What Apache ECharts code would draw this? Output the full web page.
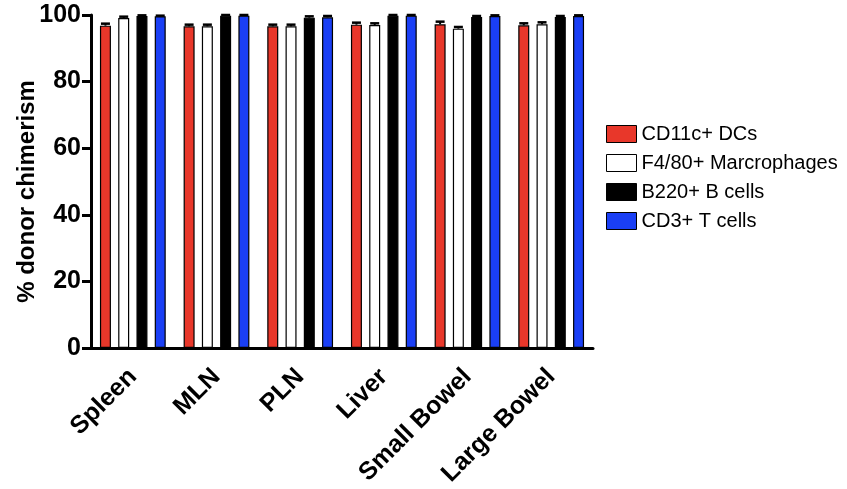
<!DOCTYPE html>
<html>
<head>
<meta charset="utf-8">
<script src="https://cdn.jsdelivr.net/npm/echarts@6/dist/echarts.min.js"></script>
<style>
html,body{margin:0;padding:0;background:#fff;}
#c{width:847px;height:489px;}
</style>
</head>
<body>
<div id="c"></div>
<script>
const categories = ['Spleen', 'MLN', 'PLN', 'Liver', 'Small Bowel', 'Large Bowel'];
const seriesNames = ['CD11c+ DCs', 'F4/80+ Marcrophages', 'B220+ B cells', 'CD3+ T cells'];
const seriesColors = ['#e8372a', '#ffffff', '#000000', '#1a3ff5'];
const dcValues   = [96.8, 96.6, 96.6, 97.1, 97.2, 96.9];
const macValues  = [99.1, 96.6, 96.6, 97.0, 95.9, 97.2];
const bValues    = [99.7, 99.8, 99.2, 99.8, 99.4, 99.4];
const tValues    = [99.6, 99.8, 99.3, 99.8, 99.7, 99.7];
const dcErr  = [0.6, 0.5, 0.5, 0.6, 0.8, 0.6];
const macErr = [0.4, 0.5, 0.5, 0.5, 0.5, 0.6];
const bErr   = [0.2, 0.2, 0.4, 0.2, 0.3, 0.3];
const tErr   = [0.2, 0.2, 0.4, 0.2, 0.2, 0.2];
const yTicks = [0, 20, 40, 60, 80, 100];

const allValues = [dcValues, macValues, bValues, tValues];
const allErr = [dcErr, macErr, bErr, tErr];

const FONT = 'Liberation Sans, Arial, Helvetica, sans-serif';
const BAR_W = 11;
const BAR_GAP = 0.66;
const PITCH = BAR_W * (1 + BAR_GAP);

const chart = echarts.init(document.getElementById('c'), null, {renderer: 'canvas'});

const series = [];
seriesNames.forEach((name, i) => {
  series.push({
    name: name,
    type: 'bar',
    data: allValues[i],
    barWidth: BAR_W,
    barGap: (BAR_GAP * 100) + '%',
    itemStyle: {color: seriesColors[i], borderColor: '#000', borderWidth: 1.2},
    z: 2
  });
});
seriesNames.forEach((name, i) => {
  series.push({
    name: name,
    type: 'custom',
    z: 3,
    data: categories.map((c, k) => [k, allValues[i][k], allErr[i][k]]),
    renderItem: function (params, api) {
      const k = api.value(0);
      const v = api.value(1);
      const e = api.value(2);
      const base = api.coord([k, v]);
      const top = api.coord([k, v + e]);
      const x = base[0] + (i - 1.5) * PITCH;
      const capHalf = 4.5;
      return {
        type: 'group',
        children: [
          {type: 'line', shape: {x1: x, y1: base[1], x2: x, y2: top[1]}, style: {stroke: '#000', lineWidth: 2}},
          {type: 'line', shape: {x1: x - capHalf, y1: top[1], x2: x + capHalf, y2: top[1]}, style: {stroke: '#000', lineWidth: 2.5}}
        ]
      };
    }
  });
});

chart.setOption({
  animation: false,
  backgroundColor: '#ffffff',
  grid: {left: 91, right: 254, top: 15, bottom: 141, containLabel: false},
  legend: {
    data: seriesNames.map(n => ({name: n, icon: 'rect'})),
    orient: 'vertical',
    left: 601,
    top: 119,
    itemWidth: 30,
    itemHeight: 17,
    itemGap: 9,
    textStyle: {fontFamily: FONT, fontSize: 20, color: '#000', lineHeight: 18},
    itemStyle: {borderColor: '#000', borderWidth: 1}
  },
  xAxis: {
    type: 'category',
    data: categories,
    axisLine: {lineStyle: {color: '#000', width: 3}},
    axisTick: {alignWithLabel: true, length: 8, lineStyle: {color: '#000', width: 3}},
    axisLabel: {rotate: 45, margin: 25, fontFamily: FONT, fontWeight: 'bold', fontSize: 25, color: '#000', interval: 0}
  },
  yAxis: {
    type: 'value',
    min: 0,
    max: 100,
    interval: 20,
    name: '% donor chimerism',
    nameLocation: 'middle',
    nameGap: 52,
    nameMoveOverlap: false,
    nameTextStyle: {fontFamily: FONT, fontWeight: 'bold', fontSize: 24, color: '#000', padding: [0, 20, 0, 0]},
    axisLine: {show: true, lineStyle: {color: '#000', width: 3}},
    axisTick: {show: true, length: 9, lineStyle: {color: '#000', width: 3}},
    axisLabel: {fontFamily: FONT, fontWeight: 'bold', fontSize: 25, color: '#000', margin: 10,
      formatter: v => (yTicks.indexOf(v) >= 0 ? String(v) : '')},
    splitLine: {show: false}
  },
  series: series
});
</script>
</body>
</html>
